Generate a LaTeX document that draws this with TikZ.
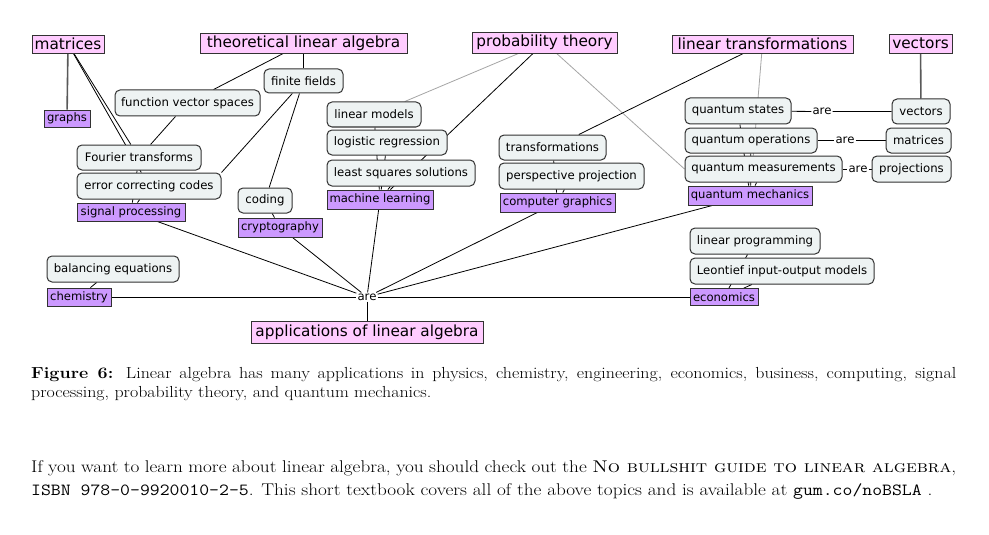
\documentclass[tikz,border=0pt]{standalone}
\usepackage{fontspec}
\usepackage{graphicx}
\newfontfamily\diag{DejaVu Sans}
\usetikzlibrary{backgrounds}
\definecolor{pinkbox}{RGB}{255,204,255}
\definecolor{purplebox}{RGB}{204,153,255}
\definecolor{graybox}{RGB}{238,243,243}
\definecolor{edgegray}{RGB}{165,165,165}
\definecolor{boxline}{RGB}{50,50,50}
\tikzset{
  topic/.style={draw=boxline, fill=pinkbox, line width=0.8pt, inner sep=0pt, font=\diag\fontsize{15.3}{17}\selectfont},
  area/.style={draw=boxline, fill=purplebox, line width=0.8pt, inner sep=0pt, font=\diag\fontsize{11.6}{13}\selectfont},
  item/.style={draw=boxline, fill=graybox, line width=1pt, rounded corners=5pt, inner sep=0pt, font=\diag\fontsize{11.7}{13}\selectfont},
  linkword/.style={fill=white, inner sep=1pt, font=\diag\fontsize{11.7}{13}\selectfont},
  link/.style={draw=black, line width=0.8pt},
  softlink/.style={draw=edgegray, line width=0.8pt},
  heavylink/.style={draw=black!65, line width=1.6pt},
  prose/.style={anchor=north west, inner sep=0pt},
}
\begin{document}
\begin{tikzpicture}[x=1pt,y=-1pt]
\useasboundingbox (0,0) rectangle (989,535);
% top topics
\node[topic, minimum width=72pt, minimum height=18pt] (mat) at (68,44) {matrices};
\node[topic, minimum width=207pt, minimum height=20pt] (tla) at (303.5,43) {theoretical linear algebra};
\node[topic, minimum width=145pt, minimum height=21pt] (pt) at (544.5,42.5) {probability theory};
\node[topic, minimum width=181pt, minimum height=18pt] (lt) at (762.5,44) {linear transformations};
\node[topic, minimum width=63pt, minimum height=19pt] (vec) at (920.5,43.5) {vectors};
\node[topic, minimum width=232pt, minimum height=22pt] (app) at (367,332) {applications of linear algebra};
% application areas
\node[area, minimum width=46pt, minimum height=17pt] (graphs) at (67,118.5) {graphs};
\node[area, minimum width=108pt, minimum height=18pt] (sp) at (131,212) {signal processing};
\node[area, minimum width=84pt, minimum height=19pt] (cry) at (280,227.5) {cryptography};
\node[area, minimum width=106pt, minimum height=19pt] (ml) at (380,199.5) {machine learning};
\node[area, minimum width=115pt, minimum height=19pt] (cg) at (557.5,202.5) {computer graphics};
\node[area, minimum width=124pt, minimum height=19pt] (qmech) at (750,195.5) {quantum mechanics};
\node[area, minimum width=64pt, minimum height=18pt] (chem) at (79,297) {chemistry};
\node[area, minimum width=68pt, minimum height=17pt] (econ) at (724,297) {economics};
% items
\node[item, minimum width=145pt, minimum height=26pt] (fvs) at (187.5,103) {function vector spaces};
\node[item, minimum width=79pt, minimum height=24pt] (ff) at (303.5,81) {finite fields};
\node[item, minimum width=124pt, minimum height=25pt] (ft) at (139,157.5) {Fourier transforms};
\node[item, minimum width=144pt, minimum height=26pt] (ecc) at (149,186) {error correcting codes};
\node[item, minimum width=54pt, minimum height=25pt] (cod) at (265,200.5) {coding};
\node[item, minimum width=94pt, minimum height=25pt] (lm) at (374,114.5) {linear models};
\node[item, minimum width=120pt, minimum height=25pt] (lr) at (387,142.5) {logistic regression};
\node[item, minimum width=148pt, minimum height=26pt] (lss) at (401,173) {least squares solutions};
\node[item, minimum width=107pt, minimum height=25pt] (tr) at (552.5,147.5) {transformations};
\node[item, minimum width=145pt, minimum height=26pt] (pp) at (571.5,176) {perspective projection};
\node[item, minimum width=106pt, minimum height=26pt] (qs) at (738,111) {quantum states};
\node[item, minimum width=132pt, minimum height=25pt] (qo) at (751,140.5) {quantum operations};
\node[item, minimum width=157pt, minimum height=26pt] (qme) at (763.5,169) {quantum measurements};
\node[item, minimum width=58pt, minimum height=25pt] (vec2) at (921,111.5) {vectors};
\node[item, minimum width=65pt, minimum height=25pt] (mat2) at (918.5,140.5) {matrices};
\node[item, minimum width=79pt, minimum height=26pt] (proj) at (911.5,169) {projections};
\node[item, minimum width=130pt, minimum height=26pt] (lp) at (755,241) {linear programming};
\node[item, minimum width=184pt, minimum height=26pt] (leo) at (782,271) {Leontief input-output models};
\node[item, minimum width=132pt, minimum height=26pt] (bal) at (113,269) {balancing equations};
% linking words
\node[linkword] (are0) at (367,297) {are};
\node[linkword] (are1) at (822,111.5) {are};
\node[linkword] (are2) at (845,140.5) {are};
\node[linkword] (are3) at (858,169) {are};
% text
\node[prose] (caption) at (31,367) {\scalebox{1.12}[1]{\parbox[t]{826pt}{\fontsize{16}{19.5}\selectfont\noindent\textbf{Figure 6:}\hspace{0.7em}Linear algebra has many applications in physics, chemistry, engineering, economics, business, computing, signal\linebreak processing, probability theory, and quantum mechanics.}}};
\node[prose] (note) at (31,460) {\scalebox{1.13}[1]{\parbox[t]{818.5pt}{\fontsize{17}{23}\selectfont\noindent If you want to learn more about linear algebra, you should check out the \textsc{No bullshit guide to linear algebra},\linebreak \texttt{ISBN 978-0-9920010-2-5}. This short textbook covers all of the above topics and is available at \texttt{gum.co/noBSLA} .}}};
% connectors
\begin{scope}[on background layer]
\fill[white] (0,0) rectangle (989,535);
\draw[heavylink] (mat) -- (graphs);
\draw[heavylink] (vec) -- (vec2);
\draw[link] (mat) -- (ft);
\draw[link] (mat) -- (ecc);
\draw[link] (tla) -- (fvs);
\draw[link] (tla) -- (ff);
\draw[link] (fvs) -- (ft);
\draw[link] (ft) -- (sp);
\draw[link] (ecc) -- (sp);
\draw[link] (ff) -- (ecc.north east);
\draw[link] (ff) -- (cod);
\draw[link] (cod) -- (cry);
\draw[link] (lm) -- (ml);
\draw[link] (lr) -- (ml);
\draw[link] (lss) -- (ml);
\draw[link] (pt) -- (ml);
\draw[softlink] (pt) -- (lm);
\draw[softlink] (pt) -- (qme.west);
\draw[link] (tr) -- (cg);
\draw[link] (pp) -- (cg);
\draw[link] (lt) -- (tr);
\draw[softlink] (lt) -- (qmech);
\draw[link] (qs) -- (qmech);
\draw[link] (qo) -- (qmech);
\draw[link] (qme) -- (qmech);
\draw[link] (qs) -- (are1) -- (vec2);
\draw[link] (qo) -- (are2) -- (mat2);
\draw[link] (qme) -- (are3) -- (proj);
\draw[link] (bal) -- (chem);
\draw[link] (lp) -- (econ);
\draw[link] (leo) -- (econ);
\draw[link] (sp) -- (are0);
\draw[link] (cry) -- (are0);
\draw[link] (ml) -- (are0);
\draw[link] (cg) -- (are0);
\draw[link] (qmech) -- (are0);
\draw[link] (chem) -- (are0);
\draw[link] (are0) -- (econ);
\draw[link] (are0) -- (app);
\end{scope}
\end{tikzpicture}
\end{document}
